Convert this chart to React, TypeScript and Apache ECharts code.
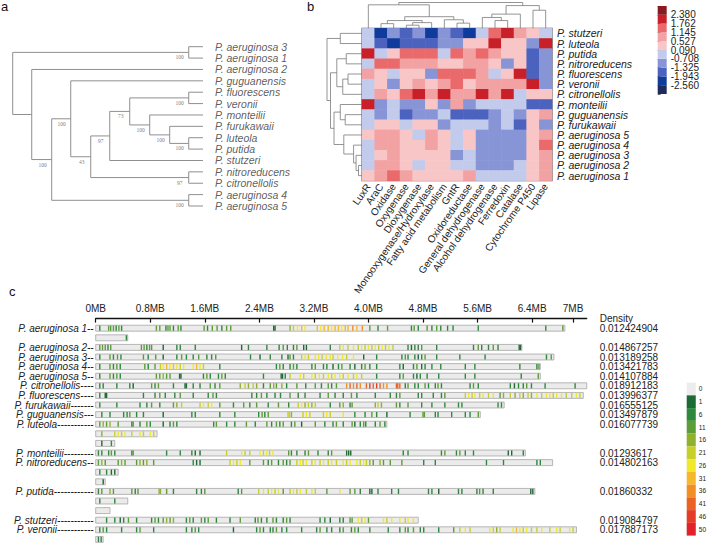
import React, { useEffect, useRef } from 'react';
import * as echarts from 'echarts';

const SANS = '"Liberation Sans", Arial, Helvetica, sans-serif';
const SERIF = '"Liberation Serif", "DejaVu Serif", serif';

// ---------- tree helpers ----------
type Leaf = string | number;
type TreeNode = { h: number; c: (TreeNode | Leaf)[]; b?: string };
const nd = (h: number, c: (TreeNode | Leaf)[], b?: string): TreeNode => ({ h, c, b });

// ---------- a: phylogeny (node heights, bootstrap support) ----------
const phyloTree = nd(10, [
  nd(0.75, ['P. aeruginosa 3', 'P. aeruginosa 1'], '100'),
  nd(9.0, [
    'P. aeruginosa 2',
    nd(7.95, [
      nd(6.95, [
        'P. guguanensis',
        nd(5.9, [
          nd(4.9, [
            nd(3.85, [
              nd(0.75, ['P. fluorescens', 'P. veronii'], '100'),
              nd(2.8, [
                'P. monteilii',
                nd(1.75, ['P. furukawaii', nd(0.75, ['P. luteola', 'P. putida'], '100')], '100'),
              ], '100'),
            ], '73'),
            'P. stutzeri',
          ], '97'),
          nd(0.75, ['P. nitroreducens', 'P. citronellolis'], '97'),
        ], '43'),
      ], '100'),
      nd(0.75, ['P. aeruginosa 4', 'P. aeruginosa 5'], '100'),
    ], '100'),
  ]),
]);

// ---------- b: functional gene heatmap ----------
const strainNames = [
  'P. stutzeri', 'P. luteola', 'P. putida', 'P. nitroreducens', 'P. fluorescens',
  'P. veronii', 'P. citronellolis', 'P. monteilii', 'P. guguanensis', 'P. furukawaii',
  'P. aeruginosa 5', 'P. aeruginosa 4', 'P. aeruginosa 3', 'P. aeruginosa 2', 'P. aeruginosa 1',
];
const featureNames = [
  'LuxR', 'AraC', 'Oxidase', 'Oxygenase', 'Dioxygenase', 'Monooxygenase/Hydroxylase',
  'Fatty acid metabolism', 'GntR', 'Oxidoreductase', 'General dehydrogenase',
  'Alcohol dehydrogenase', 'Ferredoxin', 'Catalase', 'Cytochrome P450', 'Lipase',
];
// z-scores, one row per strain, columns follow featureNames
const zStutzeri = [-0.3, -2.2, -1.0, -1.6, -1.0, -2.2, -1.0, -1.6, -2.2, -0.3, 1.4, 2.0, 0.8, 0.3, -0.3];
const zLuteola = [-0.3, -1.6, -2.2, -1.6, -1.6, -1.6, -1.0, -1.0, 0.3, 0.3, 2.0, 0.3, 0.3, -1.0, 2.0];
const zPutida = [2.0, -0.3, 0.3, 1.4, 1.4, 1.4, -0.3, 1.4, 0.8, 1.4, 0.8, 0.3, 0.3, -1.6, -1.0];
const zNitroreducens = [-0.3, 1.4, 1.4, 0.8, 0.8, 0.8, 0.3, 0.3, 0.8, 0.8, 0.3, -1.0, 0.3, -1.6, -1.0];
const zFluorescens = [0.8, 0.3, -0.3, 0.3, 0.3, -1.0, 1.4, 1.4, 1.4, 0.8, -0.3, 0.3, 2.0, -1.6, -1.0];
const zVeronii = [-0.3, 0.3, -1.0, 0.3, 0.8, 0.3, 0.8, 1.4, 0.3, 0.8, 0.8, 0.8, 0.8, 2.0, -1.0];
const zCitronellolis = [-0.3, 0.8, 0.3, 1.4, 2.0, 0.8, 2.0, 0.8, 0.8, 2.0, 0.8, 2.0, -0.3, 0.3, 0.3];
const zMonteilii = [2.0, -1.0, -0.3, -1.0, -1.0, 0.3, -1.0, 0.8, -1.0, -0.3, -0.3, -0.3, -0.3, -1.6, -1.6];
const zGuguanensis = [-0.3, -1.0, -0.3, -1.6, -1.0, -1.0, -0.3, -1.6, -1.6, -1.6, -1.0, -0.3, -1.0, 0.3, 0.8];
const zFurukawaii = [-0.3, 0.3, 0.3, -0.3, 0.3, 0.3, -1.0, -0.3, -0.3, -0.3, -1.0, -0.3, -1.6, 0.3, -1.0];
const zAeruginosa5 = [0.3, 0.8, 0.8, 0.3, -0.3, 0.8, 0.3, -0.3, 0.3, -1.0, -1.0, -1.0, -1.0, 0.3, 0.8];
const zAeruginosa4 = [-0.3, 0.8, 0.8, 0.3, 0.3, 0.8, 0.3, -0.3, 0.3, -1.0, -1.0, -1.0, -1.0, 0.3, 1.4];
const zAeruginosa3 = [-0.3, 0.3, 0.8, 0.3, 0.3, 0.3, 0.3, -1.0, -0.3, -1.0, -1.0, -1.0, -1.0, 0.3, 0.8];
const zAeruginosa2 = [-0.3, 0.8, 0.8, 0.3, -0.3, 0.3, 0.3, -0.3, -0.3, -1.0, -1.0, -1.0, -0.3, 0.3, 0.8];
const zAeruginosa1 = [0.3, 0.8, 1.4, 0.8, 0.3, 0.3, 0.3, 0.3, 0.8, -0.3, -0.3, -0.3, -0.3, 0.3, 0.8];
const zRows = [
  zStutzeri, zLuteola, zPutida, zNitroreducens, zFluorescens, zVeronii, zCitronellolis,
  zMonteilii, zGuguanensis, zFurukawaii, zAeruginosa5, zAeruginosa4, zAeruginosa3, zAeruginosa2, zAeruginosa1,
];
const heatBreaks = [-2.56, -1.943, -1.325, -0.708, 0.09, 0.527, 1.145, 1.762, 2.38];
const heatColors = ['#1f2b5e', '#0e3b9c', '#4b63bf', '#8795d6', '#c3cbec', '#f8c6c6', '#f2a2a2', '#ea6a6b', '#c81f29', '#8a1a1f'];

// clustering of the heatmap columns and rows (leaf = index)
const featureTree = nd(1.0, [
  nd(0.91, [0, nd(0.45, [
    nd(0.3, [nd(0.18, [1, 2]), nd(0.22, [nd(0.12, [3, 4]), 5])]),
    nd(0.33, [6, nd(0.2, [7, 8])]),
  ])]),
  nd(0.88, [nd(0.55, [nd(0.42, [9, nd(0.3, [10, 11])]), 12]), nd(0.7, [13, 14])]),
]);
const strainTree = nd(1.0, [
  nd(0.62, [0, 1]),
  nd(0.9, [
    nd(0.72, [nd(0.45, [2, 3]), nd(0.55, [nd(0.4, [4, 5]), 6])]),
    nd(0.8, [
      nd(0.62, [7, nd(0.48, [8, 9])]),
      nd(0.52, [10, nd(0.24, [11, nd(0.17, [12, nd(0.1, [13, 14])])])]),
    ]),
  ]),
]);

// ---------- c: genome density tracks ----------
const genomeLabels = [
  'P. aeruginosa 1--', '', 'P. aeruginosa 2--', 'P. aeruginosa 3--', 'P. aeruginosa 4--',
  'P. aeruginosa 5--', 'P. citronellolis----', 'P. fluorescens----', 'P. furukawaii-------',
  'P. guguanensis---', 'P. luteola-----------', '', '', 'P. monteilii---------',
  'P. nitroreducens--', '', '', 'P. putida------------', '', '', 'P. stutzeri-----------',
  'P. veronii-----------', '',
];
const densityHeader = 'Density';
const genomeDensity = [
  0.012424904, null, 0.014867257, 0.013189258, 0.013421783, 0.014107884, 0.018912183,
  0.013996377, 0.016555125, 0.013497879, 0.016077739, null, null, 0.01293617, 0.014802163,
  null, null, 0.01860332, null, null, 0.019084797, 0.017887173, null,
];
// replicon lengths (MB)
const genomeLengths = [6.88, 0.47, 6.25, 6.72, 6.52, 6.52, 7.2, 7.15, 5.99, 5.64, 4.27, 0.9, 0.28, 6.3, 6.7, 0.33, 0.14, 6.44, 0.47, 0.21, 4.73, 7.05, 0.11];

// [position MB, density]
const marksAer1 = [[0.06,8],[0.19,13],[0.22,13],[0.26,13],[0.30,8],[0.34,13],[0.38,8],[0.89,13],[0.94,13],[1.03,8],[1.06,13],[1.09,13],[1.14,8],[1.21,13],[1.25,8],[1.59,13],[1.64,8],[1.71,13],[1.78,13],[1.85,8],[1.92,13],[1.98,13],[2.61,3],[2.63,3],[2.85,18],[2.90,23],[2.96,28],[3.02,33],[3.07,28],[3.25,33],[3.30,28],[3.35,33],[3.41,33],[3.46,28],[3.51,33],[3.56,33],[3.61,28],[3.66,33],[3.70,33],[3.77,38],[3.83,33],[3.91,38],[4.02,13],[4.14,8],[4.28,13],[4.63,8],[4.67,13],[4.73,8],[4.86,13],[4.93,8],[5.00,13],[5.06,8],[5.16,8],[5.24,8],[5.61,8],[6.60,8],[6.85,13]];
const marksAer1P = [[0.45,8]];
const marksAer2 = [[0.06,13],[0.10,13],[0.14,13],[0.18,8],[0.22,13],[0.67,13],[0.71,13],[0.75,8],[0.79,13],[0.82,13],[0.99,3],[1.19,8],[1.24,8],[1.46,8],[2.14,3],[2.24,8],[2.51,8],[2.69,8],[2.75,13],[2.81,8],[2.90,8],[2.95,13],[3.05,3],[3.09,3],[3.44,8],[3.58,23],[3.63,28],[3.70,23],[3.78,28],[3.85,23],[3.90,28],[3.95,23],[4.00,28],[4.05,23],[4.10,28],[4.15,23],[4.20,28],[4.25,23],[4.30,28],[4.36,23],[4.58,8],[4.63,3],[4.68,8],[4.73,8],[4.78,13],[5.00,8],[5.54,8],[5.61,13],[5.66,8],[5.76,8],[5.83,13],[5.90,8],[6.21,3],[6.23,3]];
const marksAer3 = [[0.06,8],[0.21,13],[0.26,8],[0.32,13],[0.37,8],[0.70,13],[0.77,8],[0.88,13],[0.99,3],[1.19,8],[1.26,13],[1.33,8],[1.43,8],[1.51,13],[1.63,8],[1.70,8],[1.76,13],[2.27,8],[2.41,3],[2.56,8],[2.73,8],[2.82,3],[2.85,13],[2.90,8],[3.02,23],[3.07,28],[3.12,23],[3.22,28],[3.27,28],[3.32,23],[3.38,28],[3.44,28],[3.48,23],[3.55,28],[3.62,28],[3.68,23],[3.78,28],[3.93,3],[4.12,8],[4.49,8],[4.54,13],[4.58,8],[4.68,8],[4.73,3],[4.78,8],[4.83,13],[5.00,8],[5.34,8],[5.71,8],[6.61,8],[6.68,13]];
const marksAer4 = [[0.06,8],[0.21,13],[0.26,8],[0.31,13],[0.36,8],[0.72,13],[0.77,8],[0.87,13],[0.95,23],[0.99,28],[1.04,33],[1.09,28],[1.14,33],[1.19,28],[1.24,23],[1.29,28],[1.43,28],[1.48,33],[1.53,28],[1.58,23],[1.82,8],[2.65,8],[2.70,13],[2.75,8],[2.85,8],[2.90,13],[2.95,8],[3.17,8],[3.22,13],[3.34,8],[3.39,8],[3.48,3],[3.56,8],[3.61,13],[3.73,8],[3.80,3],[3.90,8],[3.95,13],[4.02,8],[4.12,8],[4.46,8],[4.51,3],[4.66,8],[4.71,13],[4.78,3],[4.83,8],[4.93,8],[5.06,8],[5.42,8],[5.56,8],[6.22,8],[6.47,8],[6.50,13]];
const marksAer5 = [[0.06,8],[0.21,13],[0.26,8],[0.31,13],[0.36,8],[0.89,13],[0.94,13],[0.99,18],[1.04,13],[1.09,13],[1.23,3],[1.25,3],[1.58,8],[1.63,13],[1.68,8],[1.80,8],[1.85,13],[1.90,8],[2.46,8],[2.72,3],[2.74,3],[2.78,8],[2.85,23],[3.00,28],[3.05,23],[3.17,28],[3.22,23],[3.28,28],[3.34,23],[3.41,28],[3.46,23],[3.51,28],[3.58,28],[3.63,23],[3.70,28],[3.78,23],[3.83,28],[3.90,23],[4.12,8],[4.46,8],[4.51,13],[4.66,8],[4.71,3],[4.76,8],[4.86,8],[5.03,8],[5.42,8],[5.56,8],[6.24,8],[6.49,13]];
const marksCitronellolis = [[0.06,8],[0.11,8],[0.31,8],[0.50,8],[0.55,3],[0.82,13],[0.87,8],[0.92,13],[1.14,8],[1.31,3],[1.33,3],[1.43,8],[1.53,8],[1.68,13],[1.75,8],[1.82,13],[2.12,18],[2.19,23],[2.24,18],[2.31,23],[2.36,18],[2.46,8],[2.56,13],[2.61,18],[2.65,13],[2.73,18],[2.80,8],[2.95,13],[3.08,8],[3.22,13],[3.31,8],[3.41,13],[3.46,8],[3.53,13],[3.68,38],[3.73,43],[3.78,38],[3.83,43],[3.88,38],[3.97,43],[4.02,48],[4.07,43],[4.12,48],[4.17,43],[4.22,38],[4.27,38],[4.41,43],[4.43,43],[4.46,43],[4.54,8],[4.58,13],[4.68,8],[4.73,8],[4.83,13],[4.88,8],[4.98,8],[5.02,13],[5.07,8],[5.49,8],[5.54,13],[5.61,8],[6.08,8],[6.14,3],[6.20,8],[6.27,8],[6.32,13],[6.39,8],[6.59,8],[7.03,8]];
const marksFluorescens = [[0.06,8],[0.14,3],[0.16,3],[0.70,8],[0.87,8],[0.94,13],[1.02,8],[1.16,8],[1.24,13],[1.43,8],[1.65,8],[1.72,13],[1.77,8],[2.29,8],[2.36,8],[2.43,13],[2.51,8],[2.63,8],[2.71,8],[2.85,13],[2.97,8],[3.07,8],[3.29,8],[3.41,13],[3.51,8],[3.63,8],[3.75,13],[3.83,8],[4.10,8],[4.32,8],[4.41,8],[4.46,13],[4.73,8],[4.78,8],[4.95,8],[5.07,8],[5.12,13],[5.42,23],[5.47,28],[5.52,23],[5.56,28],[5.63,23],[5.68,28],[5.76,23],[5.83,28],[5.93,13],[5.98,18],[6.08,23],[6.15,18],[6.22,23],[6.27,18],[6.34,23],[6.39,18],[6.47,28],[6.54,23],[6.61,28],[6.66,28],[6.71,23],[6.76,28],[6.83,28],[6.90,23],[6.98,23],[7.05,28],[7.10,23]];
const marksFurukawaii = [[0.06,8],[0.31,8],[0.65,8],[0.75,8],[0.82,13],[0.94,8],[1.14,13],[1.19,18],[1.26,23],[1.53,23],[1.58,28],[1.65,23],[1.70,28],[1.82,13],[2.02,8],[2.17,13],[2.26,8],[2.36,13],[2.53,8],[2.68,13],[2.83,8],[2.97,23],[3.02,28],[3.07,18],[3.12,23],[3.17,18],[3.22,23],[3.44,8],[3.58,13],[3.63,18],[3.73,8],[3.76,13],[4.10,18],[4.14,23],[4.19,18],[4.41,13],[4.46,8],[4.58,13],[4.78,8],[4.93,8],[5.12,8],[5.32,8],[5.37,8],[5.90,8],[5.95,8]];
const marksGuguanensis = [[0.09,8],[0.21,8],[0.41,8],[0.46,8],[0.50,13],[0.60,8],[0.70,8],[0.99,3],[1.41,8],[1.46,8],[1.82,8],[2.04,8],[2.39,8],[2.44,13],[2.48,8],[2.53,13],[2.82,23],[2.84,23],[2.87,18],[3.04,23],[3.09,28],[3.14,23],[3.34,23],[3.39,28],[3.44,23],[3.63,28],[3.80,8],[3.95,8],[4.05,13],[4.12,8],[4.27,3],[4.61,8],[4.80,13],[4.82,13],[4.98,8],[5.02,8],[5.22,8],[5.42,8],[5.49,8],[5.61,13]];
const marksLuteola = [[0.06,13],[0.11,18],[0.16,13],[0.21,18],[0.33,13],[0.53,8],[0.55,13],[0.65,8],[0.75,13],[0.80,8],[0.99,3],[1.09,8],[1.14,13],[1.19,8],[1.73,8],[1.77,13],[1.92,8],[2.04,8],[2.21,13],[2.34,8],[2.51,13],[2.58,8],[2.65,13],[2.70,8],[2.75,13],[2.87,8],[2.92,13],[3.02,3],[3.22,13],[3.36,8],[3.48,8],[3.53,13],[3.63,8],[3.76,13],[3.80,3],[3.88,8],[3.93,13],[3.96,8],[4.10,8],[4.17,13],[4.24,8]];
const marksLuteolaP1 = [[0.09,18],[0.28,23],[0.33,28],[0.38,23],[0.43,28],[0.53,23],[0.65,28],[0.70,23],[0.80,28],[0.85,23]];
const marksLuteolaP2 = [[0.09,3],[0.23,8]];
const marksMonteilii = [[0.04,8],[0.09,8],[0.19,8],[0.23,13],[0.28,8],[0.53,8],[0.55,13],[1.04,8],[1.24,8],[1.41,8],[1.46,3],[1.53,3],[1.92,23],[2.14,28],[2.19,23],[2.26,23],[2.41,28],[2.46,23],[2.51,28],[2.55,23],[2.60,28],[2.83,13],[2.87,8],[2.95,8],[3.07,8],[3.12,13],[3.26,8],[3.41,8],[3.46,13],[3.68,3],[3.71,3],[3.74,3],[4.51,8],[4.58,8],[5.07,8],[5.12,13],[5.29,8],[5.34,13],[5.42,8],[5.54,8],[6.05,3],[6.10,3],[6.27,8]];
const marksNitroreducens = [[0.04,13],[0.09,18],[0.14,13],[0.33,13],[0.38,18],[0.43,13],[0.60,13],[0.65,18],[0.70,13],[0.75,18],[0.85,13],[1.43,8],[1.48,3],[1.53,3],[1.97,23],[2.02,28],[2.07,23],[2.12,28],[2.26,13],[2.46,13],[2.53,8],[2.58,13],[2.68,8],[2.75,13],[2.80,8],[2.85,13],[2.95,23],[3.00,28],[3.04,23],[3.09,28],[3.17,23],[3.22,28],[3.29,23],[3.34,28],[3.41,23],[3.46,28],[3.53,23],[3.63,28],[3.68,23],[3.73,28],[3.83,28],[3.88,23],[3.93,28],[3.97,23],[4.02,18],[4.07,13],[4.17,18],[4.22,13],[4.32,13],[4.49,13],[4.81,8],[4.98,8],[5.73,8],[5.98,8],[6.47,8],[6.52,8]];
const marksNitroreducensP1 = [[0.06,8],[0.16,8],[0.23,3],[0.28,3]];
const marksNitroreducensP2 = [[0.11,3]];
const marksPutida = [[0.04,8],[0.09,13],[0.21,18],[0.26,13],[0.53,13],[0.58,8],[0.62,13],[0.93,18],[0.95,18],[1.04,13],[1.14,8],[1.48,8],[1.55,8],[1.60,13],[2.09,8],[2.14,13],[2.39,23],[2.46,28],[2.53,23],[2.58,28],[2.63,23],[2.68,28],[2.75,13],[2.85,23],[2.90,28],[2.95,23],[3.00,28],[3.09,23],[3.17,28],[3.22,23],[3.39,13],[3.58,28],[3.73,13],[3.80,13],[3.88,8],[4.02,3],[4.05,3],[4.14,8],[4.34,8],[4.44,8],[4.88,8],[4.93,8],[5.03,3],[5.32,8],[5.37,8],[5.59,8],[5.63,13],[5.68,8],[5.83,8],[6.38,3],[6.41,3]];
const marksPutidaP1 = [[0.06,8],[0.28,8]];
const marksPutidaP2: number[][] = [];
const marksStutzeri = [[0.16,8],[0.28,8],[0.36,3],[0.41,8],[0.48,13],[0.60,8],[0.82,8],[0.87,13],[0.92,8],[0.99,13],[1.04,18],[1.09,13],[1.14,18],[1.33,8],[1.38,13],[1.43,8],[1.55,13],[1.60,8],[1.65,13],[1.77,8],[1.97,8],[2.12,13],[2.34,8],[2.38,13],[2.43,8],[2.51,8],[2.60,13],[2.65,8],[2.75,8],[2.80,13],[2.85,8],[3.29,8],[3.36,8],[3.44,3],[3.58,8],[3.63,8],[3.73,13],[3.76,13],[3.85,28],[3.90,23],[3.95,28],[4.00,13],[4.22,28],[4.27,23],[4.34,28],[4.46,28],[4.54,23],[4.58,28],[4.66,28]];
const marksVeronii = [[0.06,8],[0.11,13],[0.16,8],[0.38,8],[0.60,8],[0.65,13],[0.85,8],[1.33,8],[1.41,8],[1.46,13],[1.51,8],[2.02,3],[2.36,8],[2.41,13],[2.46,8],[2.56,8],[2.60,8],[2.65,13],[2.73,8],[2.80,8],[3.02,8],[3.24,8],[3.29,13],[3.39,8],[3.46,8],[3.58,8],[3.63,13],[3.75,8],[3.80,13],[3.85,8],[4.02,8],[4.29,8],[4.46,8],[4.54,13],[4.58,8],[4.66,13],[4.76,8],[4.81,8],[5.03,8],[5.25,13],[5.34,23],[5.42,28],[5.49,23],[5.78,28],[5.83,23],[5.88,18],[5.93,23],[6.12,28],[6.17,33],[6.22,28],[6.27,23],[6.32,28],[6.39,23],[6.47,23],[6.54,28],[6.66,23],[6.76,28],[6.81,23],[6.95,28],[7.00,23]];
const marksVeroniiP = [[0.04,8],[0.08,8]];

const rowMarks = [
  marksAer1, marksAer1P, marksAer2, marksAer3, marksAer4, marksAer5, marksCitronellolis,
  marksFluorescens, marksFurukawaii, marksGuguanensis, marksLuteola, marksLuteolaP1, marksLuteolaP2,
  marksMonteilii, marksNitroreducens, marksNitroreducensP1, marksNitroreducensP2, marksPutida,
  marksPutidaP1, marksPutidaP2, marksStutzeri, marksVeronii, marksVeroniiP,
];

const densityBreaks = [0, 1, 6, 11, 16, 21, 26, 31, 36, 41, 46, 50];
const densityColors = ['#ececec', '#1d6a34', '#2e883e', '#5c9d37', '#8fb12d', '#c7d02a', '#f1e82b', '#f5b92b', '#f18f26', '#e96324', '#e53c25', '#e2212a'];

const mbTicks = [0, 0.8, 1.6, 2.4, 3.2, 4.0, 4.8, 5.6, 6.4, 7];
const mbTickLabels = ['0MB', '0.8MB', '1.6MB', '2.4MB', '3.2MB', '4.0MB', '4.8MB', '5.6MB', '6.4MB', '7MB'];

// ---------- layout of a dendrogram into line segments ----------
function buildDendro(tree: TreeNode, place: (leaf: Leaf, order: number) => number) {
  const segs: number[][] = [];
  const nodes: { h: number; p: number; b?: string }[] = [];
  const leaves: { name: Leaf; p: number }[] = [];
  let order = 0;
  const walk = (t: TreeNode | Leaf): [number, number] => {
    if (typeof t !== 'object') {
      const p = place(t, order++);
      leaves.push({ name: t, p });
      return [0, p];
    }
    const kids = t.c.map(walk);
    const first = kids[0][1];
    const last = kids[kids.length - 1][1];
    segs.push([t.h, first, t.h, last]);
    kids.forEach(([h, p]) => segs.push([h, p, t.h, p]));
    const p = (first + last) / 2;
    nodes.push({ h: t.h, p, b: t.b });
    return [t.h, p];
  };
  walk(tree);
  return { segs, nodes, leaves };
}

const segmentItem = (swap: boolean, stroke: string, lineWidth: number) => (_p: any, api: any) => {
  const a = [api.value(0), api.value(1)];
  const b = [api.value(2), api.value(3)];
  const p1 = api.coord(swap ? [a[1], a[0]] : a);
  const p2 = api.coord(swap ? [b[1], b[0]] : b);
  return {
    type: 'line',
    shape: { x1: p1[0], y1: p1[1], x2: p2[0], y2: p2[1] },
    style: { stroke, lineWidth },
  };
};

function buildOption() {
  const phylo = buildDendro(phyloTree, (_l, order) => order);
  const featDendro = buildDendro(featureTree, (l) => l as number);
  const strainDendro = buildDendro(strainTree, (l) => l as number);

  const heatData: number[][] = [];
  zRows.forEach((row, r) => row.forEach((v, c) => heatData.push([c, r, v])));

  const heatPieces = heatColors.map((color, i) => {
    const piece: any = { color };
    if (i > 0) piece.gte = heatBreaks[i - 1];
    if (i < heatBreaks.length) piece.lt = heatBreaks[i];
    return piece;
  });
  const densityPieces = densityColors.map((color, i) => {
    const piece: any = { color, gte: densityBreaks[i] };
    if (i < densityBreaks.length - 1) piece.lt = densityBreaks[i + 1];
    return piece;
  });

  const markData: number[][] = [];
  rowMarks.forEach((marks, row) => marks.forEach(([pos, d]) => markData.push([pos, row, d])));

  const hidden = { show: false };
  const letter = { fontSize: 13, fontWeight: 'normal', color: '#111', fontFamily: SANS };

  return {
    animation: false,
    backgroundColor: '#ffffff',
    textStyle: { fontFamily: SANS, color: '#222' },
    title: [
      { text: 'a', left: 1, top: 0, padding: 0, textStyle: letter },
      { text: 'b', left: 307, top: 0, padding: 0, textStyle: letter },
      { text: 'c', left: 9, top: 285, padding: 0, textStyle: letter },
    ],
    grid: [
      { left: 12.7, top: 46.7, width: 190.3, height: 159.3 },
      { left: 362, top: 28.3, width: 190, height: 152.4, show: true, borderColor: '#555', borderWidth: 1.2, backgroundColor: 'transparent' },
      { left: 362, top: 2.5, width: 190, height: 25.8 },
      { left: 327, top: 28.3, width: 35, height: 152.4 },
      { left: 657.7, top: 6, width: 9, height: 88 },
      { left: 95.7, top: 318.6, width: 491, height: 234.5 },
      { left: 686.7, top: 382.6, width: 10, height: 153 },
    ],
    xAxis: [
      { gridIndex: 0, type: 'value', min: 0, max: 10, inverse: true, ...hidden },
      {
        gridIndex: 1, type: 'category', data: featureNames, position: 'bottom',
        axisLine: hidden, axisTick: hidden, splitLine: hidden,
        axisLabel: { rotate: 55, interval: 0, fontSize: 10, margin: 4, color: '#222', fontFamily: SANS },
      },
      { gridIndex: 2, type: 'value', min: -0.5, max: 14.5, ...hidden },
      { gridIndex: 3, type: 'value', min: 0, max: 1, inverse: true, ...hidden },
      { gridIndex: 4, type: 'value', min: 0, max: 1, ...hidden },
      {
        gridIndex: 5, type: 'value', min: 0, max: 7.2, position: 'top',
        axisLine: { onZero: false, lineStyle: { color: '#111', width: 1.3 } },
        axisTick: { inside: true, length: 4, customValues: mbTicks, lineStyle: { color: '#111', width: 1.2 } },
        axisLabel: {
          customValues: mbTicks, fontSize: 10, margin: 5, color: '#222',
          formatter: (v: number) => {
            const i = mbTicks.findIndex((t) => Math.abs(t - v) < 1e-6);
            return i >= 0 ? mbTickLabels[i] : '';
          },
        },
        splitLine: hidden,
      },
      { gridIndex: 6, type: 'value', min: 0, max: 1, ...hidden },
    ],
    yAxis: [
      { gridIndex: 0, type: 'value', min: 0, max: 14, inverse: true, ...hidden },
      {
        gridIndex: 1, type: 'category', data: strainNames, inverse: true, position: 'right',
        axisLine: hidden, axisTick: hidden, splitLine: hidden,
        axisLabel: { interval: 0, fontStyle: 'italic', fontSize: 10.5, lineHeight: 9.5, margin: 5, color: '#222', fontFamily: SANS },
      },
      { gridIndex: 2, type: 'value', min: 0, max: 1, ...hidden },
      { gridIndex: 3, type: 'value', min: -0.5, max: 14.5, inverse: true, ...hidden },
      {
        gridIndex: 4, type: 'value', min: 0, max: 10, interval: 1, position: 'right',
        axisLine: hidden, splitLine: hidden,
        axisTick: { show: true, length: 3, lineStyle: { color: '#444', width: 0.8 } },
        axisLabel: {
          fontSize: 10, lineHeight: 8, margin: 4, color: '#222',
          formatter: (v: number) => (v >= 1 && v <= heatBreaks.length ? heatBreaks[v - 1].toFixed(3) : ''),
        },
      },
      {
        gridIndex: 5, type: 'value', min: -1, max: 23, interval: 1, inverse: true, position: 'left',
        axisLine: hidden, axisTick: hidden, splitLine: hidden,
        axisLabel: {
          fontStyle: 'italic', fontSize: 10, lineHeight: 9, margin: 2, color: '#222',
          formatter: (v: number) => genomeLabels[v] || '',
        },
      },
      {
        gridIndex: 5, type: 'value', min: -1, max: 23, interval: 1, inverse: true, position: 'right',
        name: densityHeader, nameLocation: 'start', nameGap: -1,
        nameTextStyle: { fontSize: 10, color: '#222', align: 'left', verticalAlign: 'middle', padding: [0, 0, 0, 13] },
        axisLine: hidden, axisTick: hidden, splitLine: hidden,
        axisLabel: {
          fontSize: 10, margin: 13, color: '#222', lineHeight: 9,
          formatter: (v: number) => {
            const d = genomeDensity[v];
            return d == null ? '' : String(d);
          },
        },
      },
      {
        gridIndex: 6, type: 'category', data: densityBreaks.map(String), inverse: true, position: 'right',
        axisLine: hidden, axisTick: hidden, splitLine: hidden,
        axisLabel: { interval: 0, fontSize: 6.5, margin: 3, color: '#222' },
      },
    ],
    visualMap: [
      { type: 'piecewise', show: false, seriesIndex: 3, dimension: 2, pieces: heatPieces },
      { type: 'piecewise', show: false, seriesIndex: 8, dimension: 2, pieces: densityPieces },
    ],
    series: [
      // 0: phylogeny branches
      {
        type: 'custom', xAxisIndex: 0, yAxisIndex: 0, silent: true,
        renderItem: segmentItem(false, '#8f8f8f', 1),
        data: phylo.segs,
      },
      // 1: species at the tips
      {
        type: 'scatter', xAxisIndex: 0, yAxisIndex: 0, symbolSize: 0, silent: true,
        data: phylo.leaves.map((l) => ({ value: [0, l.p], name: String(l.name) })),
        label: {
          show: true, position: 'right', distance: 12, formatter: '{b}',
          fontStyle: 'italic', fontSize: 10.5, lineHeight: 10, color: '#333', fontFamily: SANS,
        },
      },
      // 2: bootstrap support
      {
        type: 'scatter', xAxisIndex: 0, yAxisIndex: 0, symbolSize: 0, silent: true,
        data: phylo.nodes.filter((n) => n.b).map((n) => ({ value: [n.h, n.p], name: n.b })),
        label: {
          show: true, position: 'inside', offset: [-9, 5], formatter: '{b}',
          fontSize: 5.5, color: '#555', fontFamily: SERIF,
        },
      },
      // 3: heatmap
      {
        type: 'heatmap', xAxisIndex: 1, yAxisIndex: 1, data: heatData, silent: true,
        itemStyle: { borderWidth: 0 },
      },
      // 4: column dendrogram
      {
        type: 'custom', xAxisIndex: 2, yAxisIndex: 2, silent: true,
        renderItem: segmentItem(true, '#7a7a7a', 0.8),
        data: featDendro.segs,
      },
      // 5: row dendrogram
      {
        type: 'custom', xAxisIndex: 3, yAxisIndex: 3, silent: true,
        renderItem: segmentItem(false, '#7a7a7a', 0.8),
        data: strainDendro.segs,
      },
      // 6: heatmap colour key
      {
        type: 'custom', xAxisIndex: 4, yAxisIndex: 4, silent: true,
        data: heatColors.map((_c, i) => [0, i]),
        renderItem: (_p: any, api: any) => {
          const i = api.value(1);
          const tl = api.coord([0, i + 1]);
          const br = api.coord([1, i]);
          return {
            type: 'rect',
            shape: { x: tl[0], y: tl[1], width: br[0] - tl[0], height: br[1] - tl[1] },
            style: { fill: heatColors[i] },
          };
        },
      },
      // 7: replicon bars
      {
        type: 'custom', xAxisIndex: 5, yAxisIndex: 5, silent: true,
        data: genomeLengths.map((len, row) => [len, row]),
        renderItem: (_p: any, api: any) => {
          const row = api.value(1);
          const s = api.coord([0, row]);
          const e = api.coord([api.value(0), row]);
          const h = api.size([0, 1])[1] * 0.62;
          return {
            type: 'rect',
            shape: { x: s[0], y: s[1] - h / 2, width: e[0] - s[0], height: h },
            style: { fill: '#ebebeb', stroke: '#9c9c9c', lineWidth: 0.7 },
          };
        },
      },
      // 8: density marks
      {
        type: 'custom', xAxisIndex: 5, yAxisIndex: 5, silent: true,
        data: markData,
        renderItem: (_p: any, api: any) => {
          const c = api.coord([api.value(0), api.value(1)]);
          const h = api.size([0, 1])[1] * 0.62 - 0.8;
          return {
            type: 'rect',
            shape: { x: c[0] - 0.7, y: c[1] - h / 2, width: 1.4, height: h },
            style: { fill: api.visual('color') },
          };
        },
      },
      // 9: density colour key
      {
        type: 'custom', xAxisIndex: 6, yAxisIndex: 7, silent: true,
        data: densityColors.map((_c, i) => [0, i]),
        renderItem: (_p: any, api: any) => {
          const i = api.value(1);
          const c = api.coord([0, i]);
          const sz = api.size([1, 1]);
          return {
            type: 'rect',
            shape: { x: c[0], y: c[1] - sz[1] / 2, width: sz[0], height: sz[1] },
            style: { fill: densityColors[i] },
          };
        },
      },
    ],
  };
}

export default function App() {
  const ref = useRef<HTMLDivElement>(null);
  useEffect(() => {
    if (!ref.current) return;
    const chart = echarts.init(ref.current, null, { renderer: 'svg' });
    chart.setOption(buildOption() as any);
    return () => chart.dispose();
  }, []);
  return <div ref={ref} style={{ position: 'fixed', left: 0, top: 0, width: 709, height: 549 }} />;
}
